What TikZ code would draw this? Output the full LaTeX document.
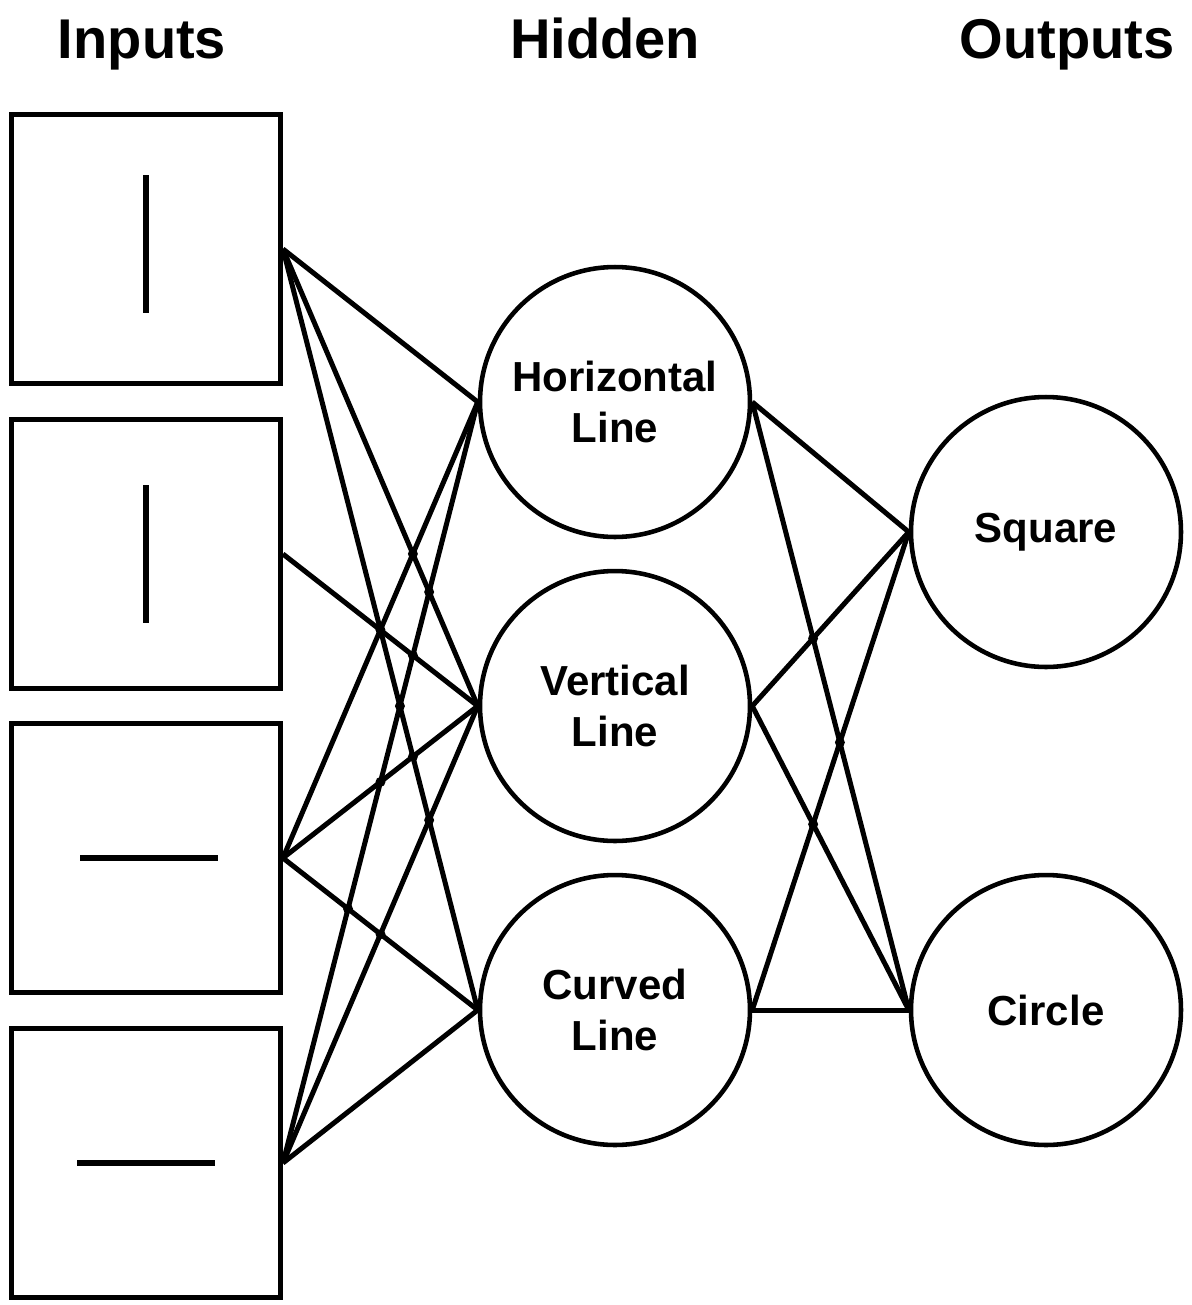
\documentclass[tikz,border=0pt]{standalone}
\usepackage{fontspec}
\setmainfont{Liberation Sans}

\tikzset{
  inbox/.style={draw, line width=2.8pt, minimum width=5.38cm, minimum height=5.38cm},
  unit/.style={draw, circle, line width=2.6pt, minimum size=5.4cm, align=center,
    font=\bfseries\fontsize{23.9}{29}\selectfont},
  title/.style={anchor=base, font=\bfseries\fontsize{31.9}{38}\selectfont},
  wire/.style={line width=2.85pt},
  glyph/.style={line width=2.9pt},
  jump/.style={fill=black}
}

\begin{document}
\begin{tikzpicture}[x=0.02cm, y=-0.02cm]
  \useasboundingbox (0,0) rectangle (1192,1305);

  % column titles
  \node[title] (tin)  at (142,58)  {Inputs};
  \node[title] (thid) at (605,58)  {Hidden};
  \node[title] (tout) at (1067,58) {Outputs};

  % input images
  \node[inbox] (in1) at (146,249)  {};
  \node[inbox] (in2) at (146,554)  {};
  \node[inbox] (in3) at (146,858)  {};
  \node[inbox] (in4) at (146,1163) {};
  \draw[glyph] (146,175) -- (146,313);
  \draw[glyph] (146,485) -- (146,623);
  \draw[glyph] (80,858) -- (218,858);
  \draw[glyph] (77,1163) -- (215,1163);

  % hidden and output units
  \node[unit] (hor) at (615,402)  {Horizontal\\Line};
  \node[unit] (ver) at (615,706)  {Vertical\\Line};
  \node[unit] (cur) at (615,1010) {Curved\\Line};
  \node[unit] (sq)  at (1046,532)  {Square};
  \node[unit] (ci)  at (1046,1010) {Circle};

  % connections
  \foreach \a/\b in {in1/hor, in1/ver, in1/cur, in2/ver, in3/hor, in3/ver,
                     in3/cur, in4/hor, in4/ver, in4/cur}
    \draw[wire] (\a.east) -- (\b.west);
  \foreach \a in {hor, ver, cur}
    \foreach \b in {sq, ci}
      \draw[wire] (\a.east) -- (\b.west);

  % crossing dots
  \foreach \a/\b/\c/\d in {in1/ver/in3/hor, in1/ver/in4/hor, in1/cur/in3/hor,
      in2/ver/in4/hor, in1/cur/in4/hor, in1/cur/in4/ver, in3/ver/in1/cur,
      in3/ver/in4/hor, in3/cur/in4/hor, in3/cur/in4/ver,
      hor/ci/ver/sq, hor/ci/cur/sq, ver/ci/cur/sq}
    \fill[jump] (intersection of \a.east--\b.west and \c.east--\d.west) circle (0.1cm);
\end{tikzpicture}
\end{document}
